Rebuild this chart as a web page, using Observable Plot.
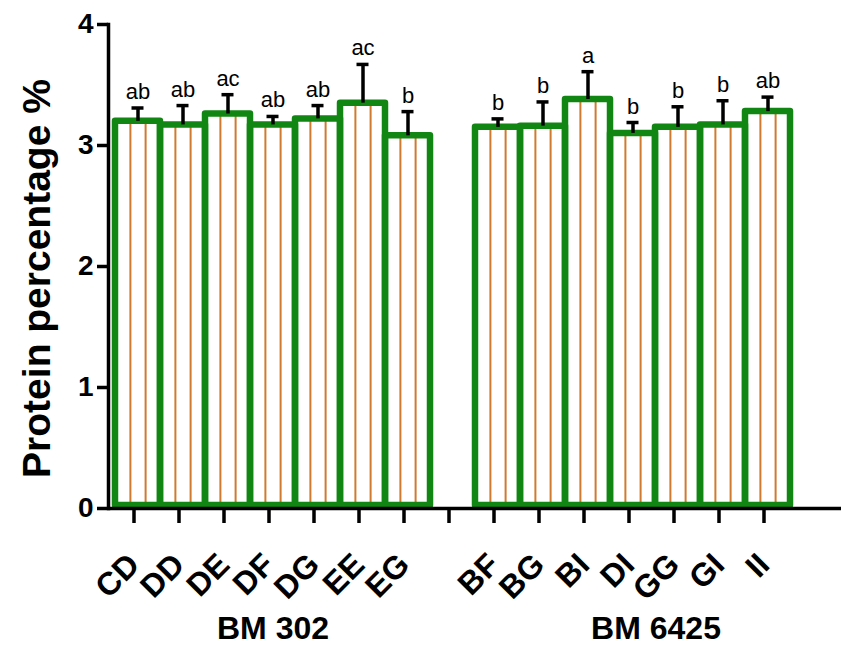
<!DOCTYPE html>
<html>
<head>
<meta charset="utf-8">
<script src="https://cdn.jsdelivr.net/npm/d3@7"></script>
<script src="https://cdn.jsdelivr.net/npm/@observablehq/plot@0.6"></script>
<style>
  html, body { margin: 0; padding: 0; background: #fff; }
  #chart { width: 847px; height: 648px; }
</style>
</head>
<body>
<div id="chart"></div>
<script>
// ---- data ----
const categories = ["CD","DD","DE","DF","DG","EE","EG","BF","BG","BI","DI","GG","GI","II"];
const cultivars  = ["BM 302","BM 302","BM 302","BM 302","BM 302","BM 302","BM 302",
                    "BM 6425","BM 6425","BM 6425","BM 6425","BM 6425","BM 6425","BM 6425"];
const means      = [3.20, 3.17, 3.26, 3.17, 3.22, 3.35, 3.08, 3.15, 3.16, 3.38, 3.10, 3.15, 3.17, 3.28];
const errors     = [0.11, 0.16, 0.16, 0.07, 0.11, 0.32, 0.20, 0.07, 0.20, 0.23, 0.09, 0.17, 0.20, 0.12];
const letters    = ["ab","ab","ac","ab","ab","ac","b","b","b","a","b","b","b","ab"];
const groupLabels = ["BM 302", "BM 6425"];
const groupCenters = ["DF", "DI"];
const yTicks = [0, 1, 2, 3, 4];
const yTitle = "Protein percentage %";

// x domain: group 1, an empty slot, group 2, a trailing empty slot (axis runs on)
const GAP = "\u2009gap", END = "\u2009end";
const xDomain = [...categories.slice(0, 7), GAP, ...categories.slice(7), END];
const xTicks = xDomain.filter(d => d !== END);

const rows = categories.map((c, i) => ({
  cat: c, cultivar: cultivars[i], mean: means[i], err: errors[i], top: means[i] + errors[i], letter: letters[i]
}));

const GREEN = "#128612", ORANGE = "#cf7a2e", FONT = "'Liberation Sans', Arial, sans-serif";

const chart = Plot.plot({
  width: 847,
  height: 648,
  marginLeft: 108,
  marginRight: 6,
  marginTop: 24,
  marginBottom: 140,
  style: {fontFamily: FONT, background: "#fff", color: "#000"},
  x: {type: "band", domain: xDomain, padding: 0, axis: null},
  y: {domain: [0, 4], axis: null},
  marks: [
    // white bar bodies
    Plot.barY(rows, {x: "cat", y: "mean", fill: "#fff", insetBottom: 3}),
    // orange vertical hatch lines inside each bar
    Plot.ruleX(rows, {x: "cat", y1: 0, y2: "mean", stroke: ORANGE, strokeWidth: 2, dx: -7.6}),
    Plot.ruleX(rows, {x: "cat", y1: 0, y2: "mean", stroke: ORANGE, strokeWidth: 2, dx: 7.6}),
    // green bar outlines
    Plot.barY(rows, {x: "cat", y: "mean", fill: "none", stroke: GREEN, strokeWidth: 6.5,
                     strokeLinejoin: "round", insetBottom: 3}),
    // error bars (upper half)
    Plot.ruleX(rows, {x: "cat", y1: "mean", y2: "top", stroke: "#000", strokeWidth: 3.5}),
    Plot.tickY(rows, {x: "cat", y: "top", stroke: "#000", strokeWidth: 3.5, insetLeft: 16.5, insetRight: 16.5}),
    // significance letters
    Plot.text(rows, {x: "cat", y: "top", text: "letter", dy: -9, lineAnchor: "bottom",
                     fontSize: 22, fill: "#000", fontFamily: FONT}),
    // axes
    Plot.axisY({ticks: yTicks, tickFormat: d3.format("d"), tickSize: 11, tickPadding: 4, strokeWidth: 3.5,
                fontSize: 28, fontWeight: "bold", label: null, fill: "#000"}),
    Plot.frame({anchor: "left", strokeWidth: 3.5, stroke: "#000"}),
    Plot.ruleY([0], {stroke: "#000", strokeWidth: 3.5}),
    Plot.axisX({ticks: xTicks, tickSize: 15, tickPadding: 36, strokeWidth: 3.5, tickRotate: -45, dx: -4,
                tickFormat: d => (categories.includes(d) ? d : ""),
                fontSize: 32, fontWeight: "bold", label: null, fill: "#000"}),
    // group labels
    Plot.text([groupLabels[0]], {x: [groupCenters[0]], text: d => d, frameAnchor: "bottom", dy: 130,
                       fontSize: 32, fontWeight: "bold", lineAnchor: "bottom", fill: "#000"}),
    Plot.text([groupLabels[1]], {x: [groupCenters[1]], text: d => d, frameAnchor: "bottom", dy: 130, dx: 23,
                       fontSize: 32, fontWeight: "bold", lineAnchor: "bottom", fill: "#000"}),
    // y title
    Plot.text([yTitle], {frameAnchor: "left", rotate: -90, dx: -71, dy: 12, textAnchor: "middle", fontSize: 39,
                         fontWeight: "bold", fill: "#000"})
  ]
});
document.getElementById("chart").appendChild(chart);
</script>
</body>
</html>
